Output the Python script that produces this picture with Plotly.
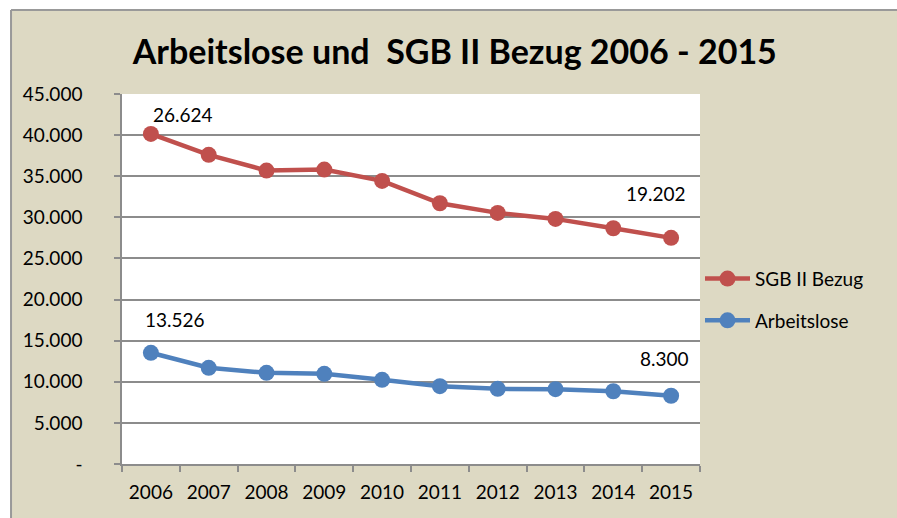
import plotly.graph_objects as go

# Werte (Diagramm ist gestapelt: SGB II liegt auf Arbeitslose)
years = ['2006', '2007', '2008', '2009', '2010', '2011', '2012', '2013', '2014', '2015']
arbeitslose = [13526, 11700, 11090, 10970, 10240, 9470, 9140, 9100, 8850, 8300]
sgb2_bezug = [26624, 25900, 24600, 24840, 24190, 22240, 21400, 20710, 19820, 19202]

y_tickvals = [0, 5000, 10000, 15000, 20000, 25000, 30000, 35000, 40000, 45000]
y_ticktext = ['-', '5.000', '10.000', '15.000', '20.000', '25.000',
              '30.000', '35.000', '40.000', '45.000']

red = '#C0504D'
blue = '#4F81BD'
beige = '#DDD9C3'
grid = '#8C8C8C'
font_family = 'Lato, "Liberation Sans", sans-serif'


def de_num(v):
    return '{:,}'.format(v).replace(',', '.')


# gestapelt: obere Linie = Arbeitslose + SGB II
totals = [a + b for a, b in zip(arbeitslose, sgb2_bezug)]

fig = go.Figure()

fig.add_trace(go.Scatter(
    x=years, y=totals, name='SGB II Bezug',
    mode='lines+markers', legendgroup='b',
    line=dict(width=4.5, color=red),
    marker=dict(size=16, color=red)
))

fig.add_trace(go.Scatter(
    x=years, y=arbeitslose, name='Arbeitslose',
    mode='lines+markers', legendgroup='a',
    line=dict(width=4.5, color=blue),
    marker=dict(size=16, color=blue)
))

# Datenbeschriftungen am ersten und letzten Punkt (x als Kategorie-Index)
first, last = 0, len(years) - 1
labels = [
    (first, totals[first], de_num(sgb2_bezug[first]), 32, 19),
    (last, totals[last], de_num(sgb2_bezug[last]), -15, 44),
    (first, arbeitslose[first], de_num(arbeitslose[first]), 24, 33),
    (last, arbeitslose[last], de_num(arbeitslose[last]), -7, 37),
]
for x, y, txt, xs, ys in labels:
    fig.add_annotation(x=x, y=y, text=txt, showarrow=False,
                       xshift=xs, yshift=ys,
                       font=dict(size=19, color='black', family=font_family))

# Rahmen des Diagrammbereichs (weisser Rand oben/links)
fig.add_shape(type='rect', xref='paper', yref='paper',
              x0=-0.25, x1=-0.192, y0=-0.3, y1=1.3,
              fillcolor='white', line_width=0, layer='below')
fig.add_shape(type='rect', xref='paper', yref='paper',
              x0=-0.25, x1=1.5, y0=1.227, y1=1.3,
              fillcolor='white', line_width=0, layer='below')
fig.add_shape(type='line', xref='paper', yref='paper',
              x0=-0.192, x1=1.5, y0=1.227, y1=1.227,
              line=dict(color='#999999', width=2))
fig.add_shape(type='line', xref='paper', yref='paper',
              x0=-0.192, x1=-0.192, y0=-0.3, y1=1.227,
              line=dict(color='#999999', width=2))

fig.update_xaxes(type='category', range=[-0.5, len(years) - 0.5],
                 tickson='boundaries', ticks='outside',
                 ticklen=6, tickcolor=grid, tickwidth=1.5,
                 showline=True, linecolor=grid, linewidth=1.5,
                 showgrid=False, ticklabelstandoff=10,
                 tickfont=dict(size=19, color='black', family=font_family))
fig.update_yaxes(range=[0, 45000], tickvals=y_tickvals, ticktext=y_ticktext,
                 ticks='outside', ticklen=6, tickcolor=grid, tickwidth=1.5,
                 showline=True, linecolor=grid, linewidth=1.5,
                 showgrid=True, gridcolor=grid, gridwidth=1.5,
                 zeroline=False, ticklabelstandoff=28,
                 tickfont=dict(size=19, color='black', family=font_family))

fig.update_layout(
    width=897, height=518,
    paper_bgcolor=beige, plot_bgcolor='white',
    margin=dict(l=122, r=197, t=94, b=54, autoexpand=False),
    title=dict(text='<b>Arbeitslose und \u00a0SGB II Bezug 2006 - 2015</b>',
               x=0.507, xanchor='center', y=0.899, yanchor='middle',
               font=dict(size=34, color='black', family=font_family)),
    legend=dict(x=1.0, xanchor='left', y=0.552, yanchor='top',
                traceorder='grouped', tracegroupgap=14, itemwidth=45,
                bgcolor='rgba(0,0,0,0)',
                font=dict(size=19, color='black', family=font_family)),
    showlegend=True,
)

# Seitenrand entfernen, damit die Grafik genau ins Fenster passt
fig.write_html("out.html", config={'displayModeBar': False},
               post_script="document.body.style.margin='0';")
